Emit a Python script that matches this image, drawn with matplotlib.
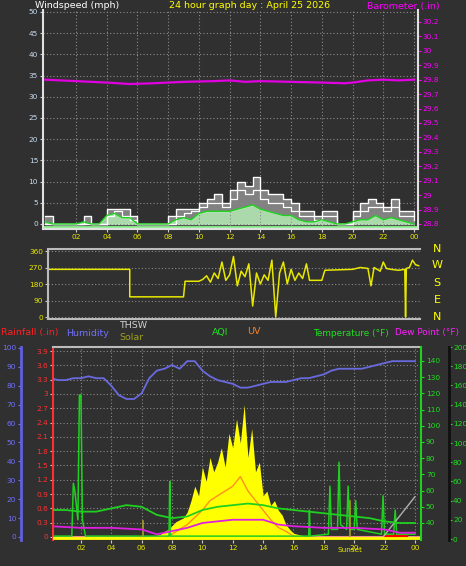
import numpy as np
import matplotlib
matplotlib.use("Agg")
import matplotlib.pyplot as plt

BG = '#303030'
W, H = 466, 566
fig = plt.figure(figsize=(W/100, H/100), dpi=100, facecolor=BG)
TS = 5.3  # tick label size
HS = 6.8  # header size

def rect(l, t, r, b):
    return [l/W, 1-b/H, (r-l)/W, (b-t)/H]

hour_ticks = list(range(2, 25, 2))
hour_labels = ['02','04','06','08','10','12','14','16','18','20','22','00']

# ---------------- data ----------------
wind_t = np.arange(0, 24.01, 0.5)
gust = [2,0,0,0,0,2,0,0,3.5,3.5,3.5,2,0,0,0,0,2,3.5,3.5,3.5,5,6,7,5,8,10,9,11,8,7,7,6,5,3,3,2,3,3,0,0,3,5,6,5,4,6,3,3,2]
gust2 = [0,0,0,0,0,0,0,0,2,3,2,1,0,0,0,0,0,2,2.5,3,4,5,5,4,6,8,7,8,6,5,5,4,3,2,2,1,2,2,0,0,2,3,4,4,3,4,2,2,1]
avg_wind = [0.5,0,0,0,0,0.5,0,0,2,2.5,1.5,1.5,0,0,0,0,0,1,1.5,1,2.5,3,3,3,3,3.5,4,4.5,3.5,3,2.5,2,2,1,0.5,0.5,1,0.5,0,0,0.5,1,1,2,1,1.5,1,0.5,0]
baro_t = [0,2,4,5.5,7,9,11,12,13,14,16,18,19.5,20,21,22,23,24]
baro = [29.80,29.79,29.78,29.77,29.775,29.785,29.79,29.795,29.785,29.79,29.785,29.78,29.775,29.78,29.795,29.80,29.795,29.80]

dir_t = [0,5.5,5.5,9,9.1,10] + list(np.arange(10.25, 16.76, 0.25)) + \
        [17,17.2,17.5,18,18.2,20,20.5,21,21.2,21.4,21.8,22,22.2,22.5,23,23.4,23.45,23.5,23.7,23.9,24.1,24.3]
dir_v = [260,260,110,110,195,195] + \
        [205,225,190,240,210,300,200,230,330,170,250,220,290,60,240,180,230,200,310,0,240,300,180,260,200,240,210] + \
        [290,200,200,200,255,260,270,265,170,270,250,300,265,260,255,260,0,265,270,310,285,280]

hum_t = np.arange(0, 24.01, 0.5)
humidity = [84,83,83,84,84,85,84,84,80,75,73,73,76,84,88,89,91,89,93,93,88,85,83,82,81,79,79,80,81,82,82,82,83,84,84,85,86,88,89,89,89,89,90,91,92,93,93,93,93]
temp_t = list(range(0, 25))
temperature = [48,48,47,47,49,51,50,45,43,44,48,50,51,52,51,49,48,47,46,45,44,43,41,40,40]
dew_t = [0,2,4,6,7,8,9,10,11,12,13,14,15,16,18,20,22,23,24]
dewpoint = [38,37,37,36,33,35,37,40,41,42,42,42,39,38,37,37,36,34,34]
solar_t = np.arange(6, 17.01, 0.25)
solar = [0,1,2,3,4,5,8,10,14,18,20,22,28,40,55,45,75,60,85,70,80,95,75,110,95,125,100,140,85,115,70,80,45,50,35,40,30,25,15,10,6,5,4,3,2]
uv_t = [7.5,8,9,10,10.5,11,11.5,12,12.5,13,13.5,14,14.5,15,15.5,16,16.5]
uv = [0,5,15,30,40,45,50,55,65,50,40,30,20,12,8,3,0]
aqi_t = [0,1.4,1.5,1.6,1.8,1.9,2.0,2.1,2.3,7.8,7.85,7.9,8.0,17,17.05,17.1,18.3,18.4,18.5,18.9,19.0,19.1,19.5,19.6,19.7,20.0,20.1,20.2,21.8,21.9,22.0,22.6,22.7,22.8,24]
aqi = [3,3,58,50,20,150,150,20,3,3,60,3,3,3,30,3,5,55,10,10,80,15,10,55,10,10,40,10,5,45,5,5,30,5,5]
thsw_t = [21.8, 24]
thsw = [0, 44]
rain_t = [22, 23.4]
rain = [0.02, 0.02]

def style(ax):
    ax.set_facecolor(BG)
    ax.grid(True, color='#8a8a8a', linestyle=(0, (1, 2)), linewidth=0.8)
    ax.tick_params(colors='#cccccc', labelsize=TS, length=2, pad=1.5)

# ---------------- top panel ----------------
ax1 = fig.add_axes(rect(43, 10, 418, 229))
style(ax1)
ax1.set_xlim(-0.15, 24.26)
ax1.set_ylim(-1.18, 50.47)
ax1.set_yticks(range(0, 51, 5))
ax1.set_xticks(hour_ticks)
ax1.set_xticklabels(hour_labels, color='#e8e800', fontsize=TS)
ax1.tick_params(axis='y', labelcolor='#c8dcf0')
for s in ['left', 'bottom']:
    ax1.spines[s].set_color('#e0e0e0'); ax1.spines[s].set_linewidth(1.5)
for s in ['top', 'right']:
    ax1.spines[s].set_visible(False)
ax1.fill_between(wind_t, 0, gust, step='post', color='#b8b8b8', alpha=0.6)
ax1.step(wind_t, gust2, where='post', color='#ffffff', lw=0.9)
ax1.step(wind_t, gust, where='post', color='#ffffff', lw=0.9)
ax1.fill_between(wind_t, 0, avg_wind, color='#b8f0b8', alpha=0.8)
ax1.plot(wind_t, avg_wind, color='#20d020', lw=1)
ax1.axhline(-0.6, color='#90f090', lw=2)
axb = ax1.twinx()
axb.set_ylim(28.765, 30.283)
bt = np.round(np.arange(28.8, 30.21, 0.1), 1)
axb.set_yticks(bt)
axb.set_yticklabels([f'{v:g}' for v in bt])
axb.tick_params(colors='#ff00ff', labelsize=TS, length=2, pad=1.5)
for s in ['top', 'left', 'bottom']:
    axb.spines[s].set_visible(False)
axb.spines['right'].set_color('#e0e0e0'); axb.spines['right'].set_linewidth(1.5)
axb.plot(baro_t, baro, color='#e000e0', lw=1.6)
fig.text(35/W, 1-6/H, 'Windspeed (mph)', color='white', fontsize=HS, va='center')
fig.text(250/W, 1-6/H, '24 hour graph day : April 25 2026', color='#ffff00', fontsize=HS, va='center', ha='center')
fig.text(440/W, 1-6/H, 'Barometer (.in)', color='#ff00ff', fontsize=HS, va='center', ha='right')

# ---------------- middle panel ----------------
ax2 = fig.add_axes(rect(48, 249, 420, 319))
style(ax2)
ax2.grid(axis='x', visible=False)
ax2.set_xlim(0.18, 24.39)
ax2.set_ylim(-10.9, 371)
ax2.set_yticks([0, 90, 180, 270, 360])
ax2.set_xticks([])
ax2.tick_params(axis='y', labelcolor='#e8e800')
for s in ax2.spines.values():
    s.set_color('#bbbbbb'); s.set_linewidth(1.5)
ax2.spines['right'].set_visible(False)
ax2.plot(dir_t, dir_v, color='#e8e800', lw=1.1)
for lab, y in zip(['N', 'W', 'S', 'E', 'N'], [249, 265, 283, 300, 317]):
    fig.text(437/W, 1-y/H, lab, color='#ffff00', fontsize=8, ha='center', va='center')

# ---------------- bottom panel ----------------
ax3 = fig.add_axes(rect(53, 347, 421, 540))
style(ax3)
ax3.set_xlim(0.16, 24.4)
ax3.set_xticks(hour_ticks)
ax3.set_xticklabels(hour_labels, color='#e8e800', fontsize=TS)
ax3.set_ylim(-0.063, 3.984)
rt = np.round(np.arange(0, 3.91, 0.3), 1)
ax3.set_yticks(rt)
ax3.set_yticklabels([f'{v:g}' for v in rt])
ax3.tick_params(axis='y', labelcolor='#ff3030')
ax3.spines['left'].set_color('#ff3030'); ax3.spines['left'].set_linewidth(1.5)
ax3.spines['top'].set_color('#bbbbbb'); ax3.spines['top'].set_linewidth(1.5)
ax3.spines['bottom'].set_visible(False)
ax3.spines['right'].set_visible(False)
ax3.axhline(0, color='#f09090', lw=1.5)

axh = ax3.twinx()
axh.set_xlim(0.16, 24.4)
axh.set_ylim(-1.6, 100.5)
axh.yaxis.set_ticks_position('left')
axh.spines['left'].set_position(('outward', 23))
axh.spines['left'].set_color('#6060e0'); axh.spines['left'].set_linewidth(2)
for s in ['top', 'right', 'bottom']:
    axh.spines[s].set_visible(False)
axh.set_yticks(range(0, 101, 10))
axh.tick_params(colors='#7070ff', labelsize=TS, length=2, pad=1.5)

axs = ax3.twinx()
axs.set_ylim(-1.04, 200)
axs.spines['right'].set_position(('outward', 20))
axs.spines['right'].set_color('#101010'); axs.spines['right'].set_linewidth(2)
for s in ['top', 'left', 'bottom']:
    axs.spines[s].set_visible(False)
axs.set_yticks(range(0, 201, 20))
axs.tick_params(colors='#20e020', labelsize=TS, length=2, pad=1)

axt = ax3.twinx()
axt.set_ylim(29.5, 148.6)
axt.set_yticks(range(40, 141, 10))
axt.spines['right'].set_color('#20d020'); axt.spines['right'].set_linewidth(1.5)
for s in ['top', 'left', 'bottom']:
    axt.spines[s].set_visible(False)
axt.tick_params(colors='#20e020', labelsize=TS, length=2, pad=1.5)

axs.fill_between(solar_t, 0, solar, color='#ffff00', lw=0)
axs.plot(uv_t, uv, color='#ff9020', lw=1)
axs.plot(aqi_t, aqi, color='#20d020', lw=1.1)
axs.plot(thsw_t, thsw, color='#b0b0b0', lw=1)
axs.axvline(6.1, ymax=0.1, color='#a0a020', lw=1.2)
axs.axvline(19.7, ymax=0.2, color='#a0a020', lw=1.2)
axs.axhline(1.5, color='#ffff00', lw=2)
axh.plot(hum_t, humidity, color='#6a6ae0', lw=1.3)
axt.plot(temp_t, temperature, color='#20d020', lw=1.3)
axt.plot(dew_t, dewpoint, color='#e020e0', lw=1.3)
ax3.plot(rain_t, rain, color='#ff0000', lw=3)
ax3.text(19.7, -0.2, 'Sunset', color='#e8e800', fontsize=TS, ha='center', va='top')

fig.text(1/W, 1-333/H, 'Rainfall (.in)', color='#ff2020', fontsize=HS, va='center')
fig.text(66/W, 1-333/H, 'Humidity', color='#7070ff', fontsize=HS, va='center')
fig.text(119/W, 1-325/H, 'THSW', color='#d0d0d0', fontsize=HS, va='center')
fig.text(119/W, 1-338/H, 'Solar', color='#a0a020', fontsize=HS, va='center')
fig.text(212/W, 1-333/H, 'AQI', color='#20e020', fontsize=HS, va='center')
fig.text(247/W, 1-331/H, 'UV', color='#ff8020', fontsize=HS, va='center')
fig.text(313/W, 1-333/H, 'Temperature (°F)', color='#20e020', fontsize=6.4, va='center')
fig.text(395/W, 1-333/H, 'Dew Point (°F)', color='#ff20ff', fontsize=6.4, va='center')

fig.savefig('out.png', dpi=100, facecolor=BG)
